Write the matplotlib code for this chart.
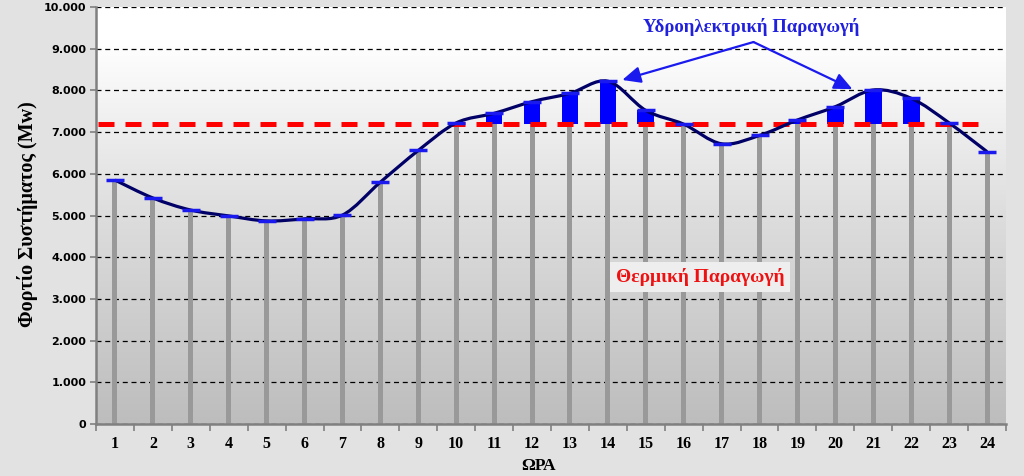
import numpy as np
import matplotlib
matplotlib.use("Agg")
import matplotlib.pyplot as plt
from matplotlib.path import Path
from matplotlib.patches import PathPatch
from matplotlib.ticker import FuncFormatter, MultipleLocator, FixedLocator

hours = list(range(1, 25))
load = [5850, 5420, 5130, 4990, 4870, 4920, 5010, 5800, 6560, 7220,
        7450, 7730, 7930, 8220, 7520, 7190, 6720, 6920, 7290, 7610,
        8010, 7810, 7220, 6530]
thermal_cap = 7200

serif = "Liberation Serif"

fig = plt.figure(figsize=(10.24, 4.76), dpi=100, facecolor="#e2e2e2")
ax = fig.add_axes([96 / 1024, 1 - 424 / 476, 910 / 1024, 417 / 476])
ax.set_xlim(0.5, 24.5)
ax.set_ylim(0, 10000)

# gradient plot background
cmap = matplotlib.colors.LinearSegmentedColormap.from_list(
    "bg", [(0, "#bdbdbd"), (0.5, "#dddddd"), (0.92, "#ffffff"), (1, "#ffffff")])
ax.imshow(np.linspace(0, 1, 256).reshape(-1, 1), extent=[0.5, 24.5, 0, 10000],
          aspect="auto", cmap=cmap, origin="lower", zorder=0)

ax.grid(axis="y", color="black", linestyle=(0, (4, 3)), linewidth=0.9, zorder=1)
ax.set_axisbelow(True)

x = np.array(hours, dtype=float)
y = np.array(load, dtype=float)
base = np.minimum(y, thermal_cap)
hydro = np.clip(y - thermal_cap, 0, None)

ax.bar(x, base, width=0.13, color="#999999", zorder=2)
ax.bar(x, hydro, bottom=thermal_cap, width=0.44, color="#0000ff", zorder=3)

ax.plot([0.55, 24.0], [thermal_cap, thermal_cap], color="#ff0000",
        linewidth=3.6, linestyle=(0, (3.2, 2.2)), zorder=4)

# smoothed load curve (Catmull-Rom as cubic bezier)
pts = np.column_stack([x, y])
ext = np.vstack([pts[0], pts, pts[-1]])
verts = [tuple(pts[0])]
codes = [Path.MOVETO]
for i in range(1, len(ext) - 2):
    p0, p1, p2, p3 = ext[i - 1], ext[i], ext[i + 1], ext[i + 2]
    c1 = p1 + (p2 - p0) / 6
    c2 = p2 - (p3 - p1) / 6
    verts += [tuple(c1), tuple(c2), tuple(p2)]
    codes += [Path.CURVE4] * 3
ax.add_patch(PathPatch(Path(verts, codes), facecolor="none",
                       edgecolor="#000066", linewidth=2.3, zorder=5))
ax.plot(x, y, linestyle="none", marker="_", markersize=13, mew=2.5,
        color="#1a1aee", zorder=6)

# axes styling
for s in ("top", "right"):
    ax.spines[s].set_visible(False)
ax.spines["left"].set_color("#808080")
ax.spines["left"].set_linewidth(1.8)
ax.spines["bottom"].set_color("#808080")
ax.spines["bottom"].set_linewidth(1.8)

ax.yaxis.set_major_locator(MultipleLocator(1000))
ax.yaxis.set_major_formatter(FuncFormatter(lambda v, p: f"{int(v):,}".replace(",", ".")))
ax.tick_params(axis="y", length=4, width=1.2, color="#808080", pad=3)
for t in ax.get_yticklabels():
    t.set_fontfamily("DejaVu Sans")
    t.set_fontweight("bold")
    t.set_fontsize(8)

ax.xaxis.set_major_locator(FixedLocator(np.arange(0.5, 25, 1)))
ax.xaxis.set_minor_locator(FixedLocator(x))
ax.xaxis.set_major_formatter(FuncFormatter(lambda v, p: ""))
ax.xaxis.set_minor_formatter(FuncFormatter(lambda v, p: str(int(round(v)))))
ax.tick_params(axis="x", which="major", length=5, width=1.2, color="#808080")
ax.tick_params(axis="x", which="minor", length=0, pad=9)
for t in ax.get_xticklabels(minor=True):
    t.set_fontfamily(serif)
    t.set_fontweight("bold")
    t.set_fontsize(11.5)

fig.text(538 / 1024, 1 - 466 / 476, "ΩΡΑ", family=serif, weight="bold",
         fontsize=12.5, ha="center", va="center")
fig.text(28 / 1024, 1 - 214 / 476, "Φορτίο Συστήματος (Mw)", family=serif,
         weight="bold", fontsize=14.5, rotation=90, ha="center", va="center")

# annotations
ax.text(17.78, 9520, "Υδροηλεκτρική Παραγωγή", family=serif, weight="bold",
        fontsize=13.5, color="#2020dd", ha="center", va="center", zorder=7)
for tx, ty in [(14.38, 8250), (20.45, 8030)]:
    ax.annotate("", xy=(tx, ty), xytext=(17.84, 9160),
                arrowprops=dict(arrowstyle="-|>,head_length=0.55,head_width=0.25",
                                mutation_scale=20, color="#1a1aee", lw=1.6,
                                shrinkA=0, shrinkB=0),
                zorder=7)

ax.text(16.44, 3530, "Θερμική Παραγωγή", family=serif, weight="bold",
        fontsize=14, color="#ee1111", ha="center", va="center", zorder=7,
        bbox=dict(boxstyle="square,pad=0.3", facecolor="#eeeeee", edgecolor="none"))

fig.savefig("out.png", dpi=100, facecolor=fig.get_facecolor())
